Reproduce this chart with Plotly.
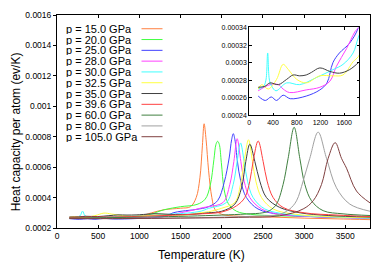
import plotly.graph_objects as go

# ---------------- data ----------------
labels = ["p = 15.0 GPa", "p = 20.0 GPa", "p = 25.0 GPa", "p = 28.0 GPa", "p = 30.0 GPa",
          "p = 32.5 GPa", "p = 35.0 GPa", "p = 39.6 GPa", "p = 60.0 GPa", "p = 80.0 GPa",
          "p = 105.0 GPa"]
colors = ["#ff7f3f", "#40ff40", "#4040ff", "#ff40ff", "#40ffff", "#ffff40",
          "#404040", "#ff4040", "#408040", "#a0a0a0", "#804040"]

T_150 = [150, 400, 700, 1000, 1150, 1300, 1500, 1620, 1690, 1735, 1765, 1786, 1810, 1840, 1880,
         1920, 2000, 2200, 2600, 3000, 3400, 3800]
C_150 = [0.000265, 0.000268, 0.000272, 0.000278, 0.000300, 0.000320, 0.000330, 0.000340, 0.000400,
         0.000530, 0.000740, 0.000885, 0.000780, 0.000580, 0.000400, 0.000320, 0.000290, 0.000278,
         0.000272, 0.000265, 0.000260, 0.000255]

T_200 = [150, 500, 800, 1100, 1300, 1500, 1700, 1800, 1860, 1905, 1930, 1950, 1970, 1995, 2030,
         2080, 2180, 2350, 2700, 3100, 3500, 3800]
C_200 = [0.000265, 0.000268, 0.000272, 0.000285, 0.000320, 0.000340, 0.000355, 0.000390, 0.000480,
         0.000650, 0.000750, 0.000770, 0.000750, 0.000630, 0.000450, 0.000360, 0.000310, 0.000290,
         0.000280, 0.000275, 0.000270, 0.000268]

T_250 = [150, 270, 370, 460, 570, 690, 960, 1190, 1310, 1410, 1520, 1690, 1840, 1950, 2030, 2090,
         2120, 2140, 2160, 2190, 2230, 2300, 2440, 2700, 3100, 3500, 3800]
C_250 = [0.000262, 0.000257, 0.000261, 0.000257, 0.000263, 0.000259, 0.000262, 0.000269, 0.000277,
         0.000300, 0.000311, 0.000322, 0.000340, 0.000380, 0.000500, 0.000660, 0.000780, 0.000820,
         0.000780, 0.000640, 0.000510, 0.000400, 0.000325, 0.000290, 0.000275, 0.000268, 0.000265]

T_280 = [150, 350, 490, 570, 680, 960, 1190, 1360, 1470, 1640, 1780, 1840, 2017, 2098, 2147, 2187,
         2232, 2272, 2341, 2483, 2700, 3100, 3500, 3800]
C_280 = [0.000268, 0.000275, 0.000275, 0.000270, 0.000266, 0.000269, 0.000272, 0.000279, 0.000296,
         0.000316, 0.000335, 0.000340, 0.000368, 0.000486, 0.000637, 0.000787, 0.000637, 0.000508,
         0.000400, 0.000325, 0.000290, 0.000275, 0.000268, 0.000265]

T_300 = [150, 240, 280, 310, 340, 380, 450, 630, 850, 1130, 1410, 1580, 1750, 1840, 2058, 2139,
         2187, 2228, 2272, 2313, 2381, 2523, 2800, 3200, 3800]
C_300 = [0.000270, 0.000273, 0.000280, 0.000311, 0.000280, 0.000273, 0.000268, 0.000277, 0.000275,
         0.000283, 0.000292, 0.000298, 0.000311, 0.000329, 0.000368, 0.000486, 0.000637, 0.000759,
         0.000637, 0.000508, 0.000400, 0.000325, 0.000290, 0.000275, 0.000265]

T_325 = [150, 210, 320, 460, 570, 660, 800, 960, 1190, 1410, 1580, 1750, 1840, 2000, 2159, 2228,
         2272, 2325, 2373, 2414, 2483, 2624, 2900, 3300, 3800]
C_325 = [0.000270, 0.000275, 0.000270, 0.000281, 0.000298, 0.000292, 0.000281, 0.000277, 0.000285,
         0.000285, 0.000286, 0.000301, 0.000307, 0.000330, 0.000368, 0.000486, 0.000637, 0.000780,
         0.000637, 0.000508, 0.000400, 0.000325, 0.000290, 0.000275, 0.000268]

T_350 = [150, 260, 350, 490, 630, 740, 850, 960, 1050, 1190, 1360, 1520, 1690, 1840, 2000, 2159,
         2240, 2292, 2341, 2402, 2462, 2543, 2705, 2950, 3300, 3800]
C_350 = [0.000272, 0.000273, 0.000277, 0.000275, 0.000281, 0.000286, 0.000285, 0.000286, 0.000289,
         0.000294, 0.000290, 0.000288, 0.000292, 0.000300, 0.000310, 0.000357, 0.000464, 0.000637,
         0.000751, 0.000637, 0.000508, 0.000400, 0.000335, 0.000300, 0.000282, 0.000272]

T_396 = [150, 500, 900, 1300, 1700, 2000, 2180, 2280, 2341, 2381, 2442, 2503, 2551, 2624, 2745,
         3000, 3400, 3800]
C_396 = [0.000270, 0.000272, 0.000275, 0.000282, 0.000292, 0.000305, 0.000346, 0.000400, 0.000508,
         0.000637, 0.000772, 0.000637, 0.000508, 0.000400, 0.000335, 0.000300, 0.000285, 0.000275]

T_600 = [150, 600, 1100, 1600, 2000, 2300, 2500, 2584, 2665, 2745, 2806, 2879, 2948, 3009, 3090,
         3231, 3473, 3800]
C_600 = [0.000265, 0.000268, 0.000272, 0.000278, 0.000285, 0.000292, 0.000300, 0.000315, 0.000357,
         0.000486, 0.000658, 0.000862, 0.000658, 0.000486, 0.000379, 0.000314, 0.000293, 0.000282]

T_800 = [150, 700, 1300, 1900, 2400, 2700, 2826, 2908, 2988, 3069, 3170, 3272, 3393, 3555, 3800]
C_800 = [0.000262, 0.000262, 0.000265, 0.000270, 0.000278, 0.000290, 0.000325, 0.000379, 0.000508,
         0.000658, 0.000830, 0.000658, 0.000464, 0.000357, 0.000310]

T_1050 = [150, 800, 1500, 2200, 2700, 2988, 3110, 3211, 3292, 3377, 3454, 3515, 3636, 3800]
C_1050 = [0.000262, 0.000262, 0.000265, 0.000270, 0.000280, 0.000325, 0.000379, 0.000486, 0.000658,
          0.000761, 0.000658, 0.000593, 0.000443, 0.000365]

series_T = [T_150, T_200, T_250, T_280, T_300, T_325, T_350, T_396, T_600, T_800, T_1050]
series_C = [C_150, C_200, C_250, C_280, C_300, C_325, C_350, C_396, C_600, C_800, C_1050]
inset_series = [2, 3, 4, 5, 6]   # 25.0, 28.0, 30.0, 32.5, 35.0 GPa

x_ticks = [0, 500, 1000, 1500, 2000, 2500, 3000, 3500]
y_ticks = [0.0002, 0.0004, 0.0006, 0.0008, 0.001, 0.0012, 0.0014, 0.0016]
y_tick_text = ["0.0002", "0.0004", "0.0006", "0.0008", "0.001", "0.0012", "0.0014", "0.0016"]
ix_ticks = [0, 400, 800, 1200, 1600]
iy_ticks = [0.00024, 0.00026, 0.00028, 0.0003, 0.00032, 0.00034]
iy_tick_text = ["0.00024", "0.00026", "0.00028", "0.0003", "0.00032", "0.00034"]

# ---------------- figure ----------------
FONT = "Liberation Sans, Arial, Helvetica, sans-serif"
OFF = 8                     # page body margin of the html page
WIN_W, WIN_H = 382, 266     # window size
W, H = WIN_W - OFF, WIN_H - OFF
# plot area in window pixels
PL, PR, PT, PB = 57, 370, 11, 228
ML, MT = PL - OFF, PT - OFF
MR, MB = WIN_W - PR, WIN_H - PB
PW, PH = PR - PL, PB - PT

def px_x(px):
    return (px - PL) / PW

def px_y(py):
    return (PB - py) / PH

fig = go.Figure()
for i in range(len(labels)):
    fig.add_trace(go.Scatter(x=series_T[i], y=series_C[i], mode="lines", name=labels[i],
                             line=dict(color=colors[i], width=1, shape="spline", smoothing=1.0),
                             showlegend=False, xaxis="x", yaxis="y"))
for i in inset_series:
    fig.add_trace(go.Scatter(x=series_T[i], y=series_C[i], mode="lines", name=labels[i],
                             line=dict(color=colors[i], width=1, shape="spline", smoothing=1.0),
                             showlegend=False, xaxis="x2", yaxis="y2"))

axis_common = dict(showline=True, linecolor="black", linewidth=1, showgrid=False, zeroline=False,
                   tickcolor="black", tickwidth=1)

shapes = []
annotations = []
for i, lab in enumerate(labels):
    yy = px_y(25 + 11 * i)
    annotations.append(dict(x=px_x(65), y=yy, xref="paper", yref="paper", text=lab, showarrow=False,
                            xanchor="left", yanchor="middle", height=10, borderpad=0,
                            font=dict(size=11, color="black", family=FONT)))
    shapes.append(dict(type="line", xref="paper", yref="paper", x0=px_x(141.5), x1=px_x(162.5),
                       y0=yy, y1=yy, line=dict(color=colors[i], width=1)))

annotations.append(dict(x=px_x(201.5), y=px_y(255), xref="paper", yref="paper", text="Temperature (K)",
                        showarrow=False, xanchor="center", yanchor="middle",
                        font=dict(size=12, color="black", family=FONT)))
annotations.append(dict(x=px_x(15.5), y=px_y(130), xref="paper", yref="paper",
                        text="Heat capacity per atom (ev/K)", textangle=-90,
                        showarrow=False, xanchor="center", yanchor="middle",
                        font=dict(size=12, color="black", family=FONT)))

fig.update_layout(
    width=W, height=H, margin=dict(l=ML, r=MR, t=MT, b=MB),
    paper_bgcolor="white", plot_bgcolor="white",
    font=dict(family=FONT, color="black", size=8.5),
    showlegend=False,
    xaxis=dict(range=[0, 3800], tickvals=x_ticks, ticks="inside", ticklen=3, mirror="ticks",
               tickfont=dict(size=8.5), **axis_common),
    yaxis=dict(range=[0.0002, 0.0016], tickvals=y_ticks, ticktext=y_tick_text, ticks="outside",
               ticklen=3, mirror=True, tickfont=dict(size=8.5), **axis_common),
    yaxis3=dict(range=[0.0002, 0.0016], tickvals=y_ticks, overlaying="y", side="right",
                ticks="inside", ticklen=3, showticklabels=False, showline=False, showgrid=False,
                zeroline=False, tickcolor="black"),
    xaxis2=dict(domain=[px_x(249.3), px_x(359)], range=[0, 1850], tickvals=ix_ticks, ticks="inside",
                ticklen=2.5, mirror="ticks", anchor="y2", tickfont=dict(size=7), **axis_common),
    yaxis2=dict(domain=[px_y(113.3), px_y(23.7)], range=[0.00024, 0.00034], tickvals=iy_ticks,
                ticktext=iy_tick_text, ticks="inside", ticklen=2.5, mirror="ticks", anchor="x2",
                tickfont=dict(size=7), **axis_common),
    shapes=shapes, annotations=annotations,
)

fig.write_html("out.html")
